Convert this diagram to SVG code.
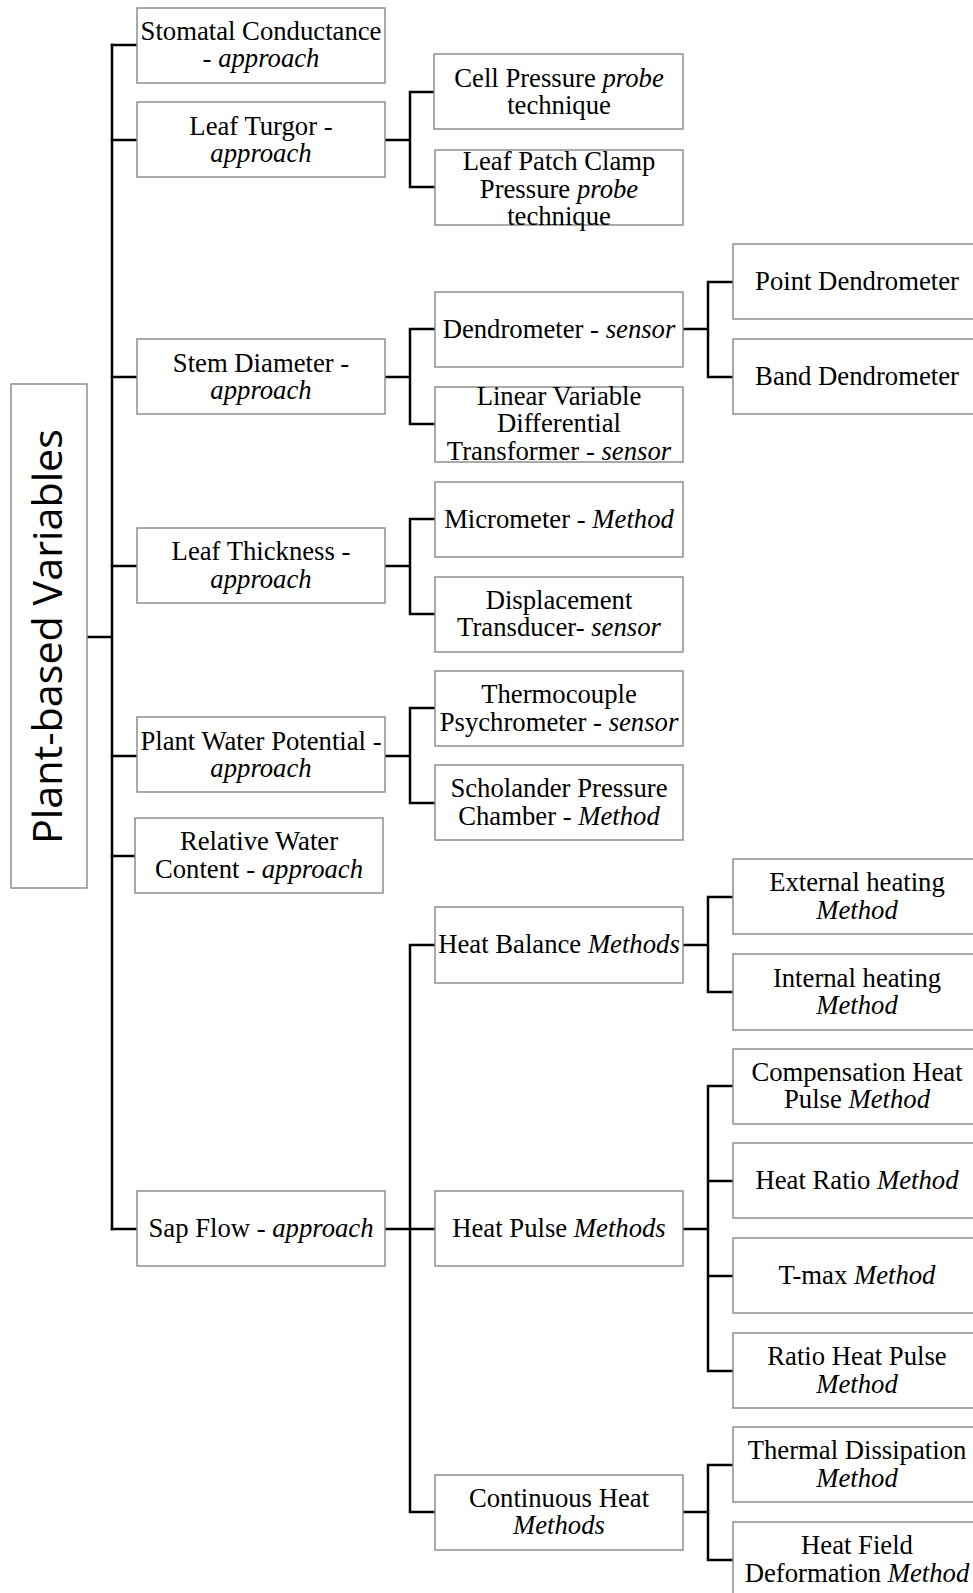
<svg xmlns="http://www.w3.org/2000/svg" width="973" height="1593" viewBox="0 0 973 1593">
<style>
.box{fill:#fff;stroke:#8f8f8f;stroke-width:1.5}
.c{stroke:#000;stroke-width:2.5;fill:none;stroke-linejoin:miter;stroke-linecap:square}
text{font-family:"Liberation Serif","Times New Roman",serif;font-size:26.7px;text-anchor:middle;fill:#000}
.i{font-style:italic}
.root{font-family:"Open Sans","Noto Sans",sans-serif;font-size:40px}
</style>
<rect width="973" height="1593" fill="#fff"/>
<g id="connectors">
<path class="c" d="M87 637H112M112 45V1229"/>
<path class="c" d="M112 45H137M112 140H137M112 377H137M112 566H137M112 756H137M112 856H135M112 1229H137"/>
<path class="c" d="M385 140H410M410 92V187M410 92H435M410 187H435"/>
<path class="c" d="M385 377H410M410 329V424M410 329H435M410 424H435"/>
<path class="c" d="M683 329H708M708 282V377M708 282H733M708 377H733"/>
<path class="c" d="M385 566H410M410 519V614M410 519H435M410 614H435"/>
<path class="c" d="M385 756H410M410 708V803M410 708H435M410 803H435"/>
<path class="c" d="M385 1229H410M410 945V1512M410 945H435M410 1229H435M410 1512H435"/>
<path class="c" d="M683 945H708M708 897V992M708 897H733M708 992H733"/>
<path class="c" d="M683 1229H708M708 1086V1371M708 1086H733M708 1181H733M708 1276H733M708 1371H733"/>
<path class="c" d="M683 1512H708M708 1465V1560M708 1465H733M708 1560H733"/>
</g>
<g id="root">
<rect class="box" x="11" y="384" width="76" height="504"/>
<text class="root" transform="translate(62,636.5) rotate(-90)" x="0" y="0" textLength="415" lengthAdjust="spacingAndGlyphs">Plant-based Variables</text>
</g>
<g id="stomatal">
<rect class="box" x="137" y="8" width="248" height="75"/>
<text x="261" y="39.5">Stomatal Conductance</text>
<text x="261" y="67">- <tspan class="i">approach</tspan></text>
</g>
<g id="leafturgor">
<rect class="box" x="137" y="102" width="248" height="75"/>
<text x="261" y="134.5">Leaf Turgor -</text>
<text x="261" y="162" class="i">approach</text>
</g>
<g id="stemdiameter">
<rect class="box" x="137" y="339" width="248" height="75"/>
<text x="261" y="371.5">Stem Diameter -</text>
<text x="261" y="399" class="i">approach</text>
</g>
<g id="leafthickness">
<rect class="box" x="137" y="528" width="248" height="75"/>
<text x="261" y="560">Leaf Thickness -</text>
<text x="261" y="587.5" class="i">approach</text>
</g>
<g id="pwp">
<rect class="box" x="137" y="717" width="248" height="75"/>
<text x="261" y="749.5">Plant Water Potential -</text>
<text x="261" y="777" class="i">approach</text>
</g>
<g id="rwc">
<rect class="box" x="135" y="818" width="248" height="75"/>
<text x="259" y="850">Relative Water</text>
<text x="259" y="877.5">Content - <tspan class="i">approach</tspan></text>
</g>
<g id="sapflow">
<rect class="box" x="137" y="1191" width="248" height="75"/>
<text x="261" y="1236.5">Sap Flow - <tspan class="i">approach</tspan></text>
</g>
<g id="cellpressure">
<rect class="box" x="434" y="54" width="249" height="75"/>
<text x="559" y="86.5">Cell Pressure <tspan class="i">probe</tspan></text>
<text x="559" y="114">technique</text>
</g>
<g id="leafpatch">
<rect class="box" x="435" y="150" width="248" height="75"/>
<text x="559" y="170">Leaf Patch Clamp</text>
<text x="559" y="197.5">Pressure <tspan class="i">probe</tspan></text>
<text x="559" y="225">technique</text>
</g>
<g id="dendrometer">
<rect class="box" x="435" y="292" width="248" height="75"/>
<text x="559" y="338">Dendrometer - <tspan class="i">sensor</tspan></text>
</g>
<g id="lvdt">
<rect class="box" x="435" y="387" width="248" height="75"/>
<text x="559" y="404.5">Linear Variable</text>
<text x="559" y="432">Differential</text>
<text x="559" y="459.5">Transformer - <tspan class="i">sensor</tspan></text>
</g>
<g id="micrometer">
<rect class="box" x="435" y="482" width="248" height="75"/>
<text x="559" y="528">Micrometer - <tspan class="i">Method</tspan></text>
</g>
<g id="displacement">
<rect class="box" x="435" y="577" width="248" height="75"/>
<text x="559" y="608.5">Displacement</text>
<text x="559" y="636">Transducer- <tspan class="i">sensor</tspan></text>
</g>
<g id="thermocouple">
<rect class="box" x="435" y="671" width="248" height="75"/>
<text x="559" y="703">Thermocouple</text>
<text x="559" y="730.5">Psychrometer - <tspan class="i">sensor</tspan></text>
</g>
<g id="scholander">
<rect class="box" x="435" y="765" width="248" height="75"/>
<text x="559" y="797">Scholander Pressure</text>
<text x="559" y="824.5">Chamber - <tspan class="i">Method</tspan></text>
</g>
<g id="heatbalance">
<rect class="box" x="435" y="907" width="248" height="76"/>
<text x="559" y="953">Heat Balance <tspan class="i">Methods</tspan></text>
</g>
<g id="heatpulse">
<rect class="box" x="435" y="1191" width="248" height="75"/>
<text x="559" y="1236.5">Heat Pulse <tspan class="i">Methods</tspan></text>
</g>
<g id="continuous">
<rect class="box" x="435" y="1475" width="248" height="75"/>
<text x="559" y="1506.5">Continuous Heat</text>
<text x="559" y="1534" class="i">Methods</text>
</g>
<g id="point">
<rect class="box" x="733" y="244" width="248" height="75"/>
<text x="857" y="290">Point Dendrometer</text>
</g>
<g id="band">
<rect class="box" x="733" y="339" width="248" height="75"/>
<text x="857" y="385">Band Dendrometer</text>
</g>
<g id="external">
<rect class="box" x="733" y="859" width="248" height="75"/>
<text x="857" y="891">External heating</text>
<text x="857" y="918.5" class="i">Method</text>
</g>
<g id="internal">
<rect class="box" x="733" y="954" width="248" height="76"/>
<text x="857" y="986.5">Internal heating</text>
<text x="857" y="1014" class="i">Method</text>
</g>
<g id="compensation">
<rect class="box" x="733" y="1049" width="248" height="75"/>
<text x="857" y="1080.5">Compensation Heat</text>
<text x="857" y="1108">Pulse <tspan class="i">Method</tspan></text>
</g>
<g id="heatratio">
<rect class="box" x="733" y="1143" width="248" height="75"/>
<text x="857" y="1188.5">Heat Ratio <tspan class="i">Method</tspan></text>
</g>
<g id="tmax">
<rect class="box" x="733" y="1238" width="248" height="75"/>
<text x="857" y="1283.5">T-max <tspan class="i">Method</tspan></text>
</g>
<g id="ratioheat">
<rect class="box" x="733" y="1333" width="248" height="75"/>
<text x="857" y="1365">Ratio Heat Pulse</text>
<text x="857" y="1392.5" class="i">Method</text>
</g>
<g id="thermal">
<rect class="box" x="733" y="1427" width="248" height="75"/>
<text x="857" y="1459">Thermal Dissipation</text>
<text x="857" y="1486.5" class="i">Method</text>
</g>
<g id="heatfield">
<rect class="box" x="733" y="1522" width="248" height="75"/>
<text x="857" y="1554">Heat Field</text>
<text x="857" y="1581.5">Deformation <tspan class="i">Method</tspan></text>
</g>
</svg>
